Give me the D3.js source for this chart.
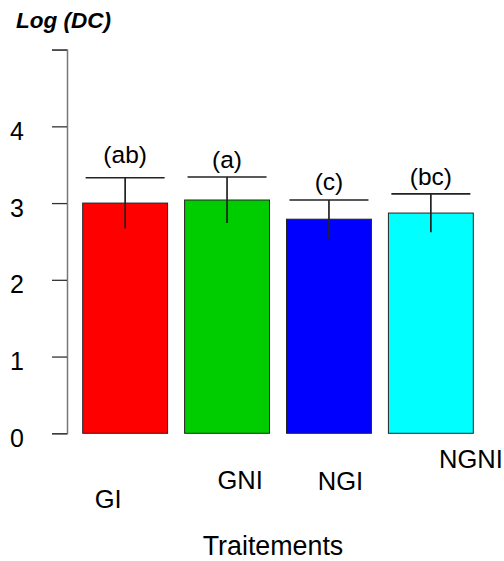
<!DOCTYPE html>
<html>
<head>
<meta charset="utf-8">
<script src="https://cdn.jsdelivr.net/npm/d3@7"></script>
<style>
  html, body { margin: 0; padding: 0; background: #fff; }
  svg { display: block; font-family: Arial, "Liberation Sans", sans-serif; }
</style>
</head>
<body>
<svg id="chart" width="504" height="561"></svg>
<script>
// Treatment groups and their mean log(DC) with standard error
const categories = ["GI", "GNI", "NGI", "NGNI"];
const means = [3.00, 3.04, 2.79, 2.87];
const errors = [0.33, 0.30, 0.25, 0.25];
const letters = ["(ab)", "(a)", "(c)", "(bc)"];
const letterAt = [3.52, 3.46, 3.17, 3.235];
const barColors = ["#FF0000", "#00CD00", "#0000FF", "#00FFFF"];
const yTicks = [0, 1, 2, 3, 4, 5];
const yTickLabels = ["0", "1", "2", "3", "4", ""];

// Category label placement (offset from bar centre, baseline y)
const catLabelDx = [-17, 13, 11.5, 40];
const catLabelY = [508, 489, 490, 468];

const svg = d3.select("#chart");

const y = d3.scaleLinear().domain([0, 5]).range([433.3, 49.6]);
const x = d3.scaleBand()
  .domain(categories)
  .range([82.7, 473.3])
  .paddingInner(0.167)
  .paddingOuter(0);

// Y axis
const axisX = 67;
const yAxis = d3.axisLeft(y)
  .tickValues(yTicks)
  .tickFormat((d, i) => yTickLabels[i])
  .tickSize(15)
  .tickPadding(0);
const gY = svg.append("g").attr("transform", `translate(${axisX},0)`).call(yAxis);
gY.select(".domain").attr("stroke", "#777").attr("stroke-width", 1.5);
gY.selectAll(".tick line").attr("stroke", "#333").attr("stroke-width", 1.3);
gY.selectAll(".tick text")
  .attr("x", 17 - axisX)
  .attr("dy", "0.32em")
  .attr("y", 5)
  .attr("text-anchor", "middle")
  .attr("fill", "#000")
  .style("font-size", "25px")
  .style("font-family", "Arial, 'Liberation Sans', sans-serif");

// Bars
svg.append("g").selectAll("rect")
  .data(categories)
  .join("rect")
  .attr("x", d => x(d))
  .attr("y", (d, i) => y(means[i]))
  .attr("width", x.bandwidth())
  .attr("height", (d, i) => y(0) - y(means[i]))
  .attr("fill", (d, i) => barColors[i])
  .attr("stroke", "#222")
  .attr("stroke-width", 1);

// Error bars (upper cap only)
const capHalf = 39.5;
const eb = svg.append("g").attr("stroke", "#222").attr("stroke-width", 1.7);
categories.forEach((c, i) => {
  const cx = x(c) + x.bandwidth() / 2;
  eb.append("line")
    .attr("x1", cx).attr("x2", cx)
    .attr("y1", y(means[i] - errors[i]))
    .attr("y2", y(means[i] + errors[i]));
  eb.append("line")
    .attr("x1", cx - capHalf).attr("x2", cx + capHalf)
    .attr("y1", y(means[i] + errors[i]))
    .attr("y2", y(means[i] + errors[i]));
});

// Significance letters
svg.append("g").selectAll("text")
  .data(categories)
  .join("text")
  .attr("x", d => x(d) + x.bandwidth() / 2)
  .attr("y", (d, i) => y(letterAt[i]))
  .attr("text-anchor", "middle")
  .style("font-size", "24.5px")
  .text((d, i) => letters[i]);

// Category labels
svg.append("g").selectAll("text")
  .data(categories)
  .join("text")
  .attr("x", (d, i) => x(d) + x.bandwidth() / 2 + catLabelDx[i])
  .attr("y", (d, i) => catLabelY[i])
  .attr("text-anchor", "middle")
  .style("font-size", "25.5px")
  .text(d => d);

// Axis titles
svg.append("text")
  .attr("x", 273).attr("y", 555)
  .attr("text-anchor", "middle")
  .style("font-size", "26.8px")
  .text("Traitements");

svg.append("text")
  .attr("x", 16).attr("y", 28)
  .style("font-size", "22.5px")
  .style("font-weight", "bold")
  .style("font-style", "italic")
  .text("Log (DC)");
</script>
</body>
</html>
